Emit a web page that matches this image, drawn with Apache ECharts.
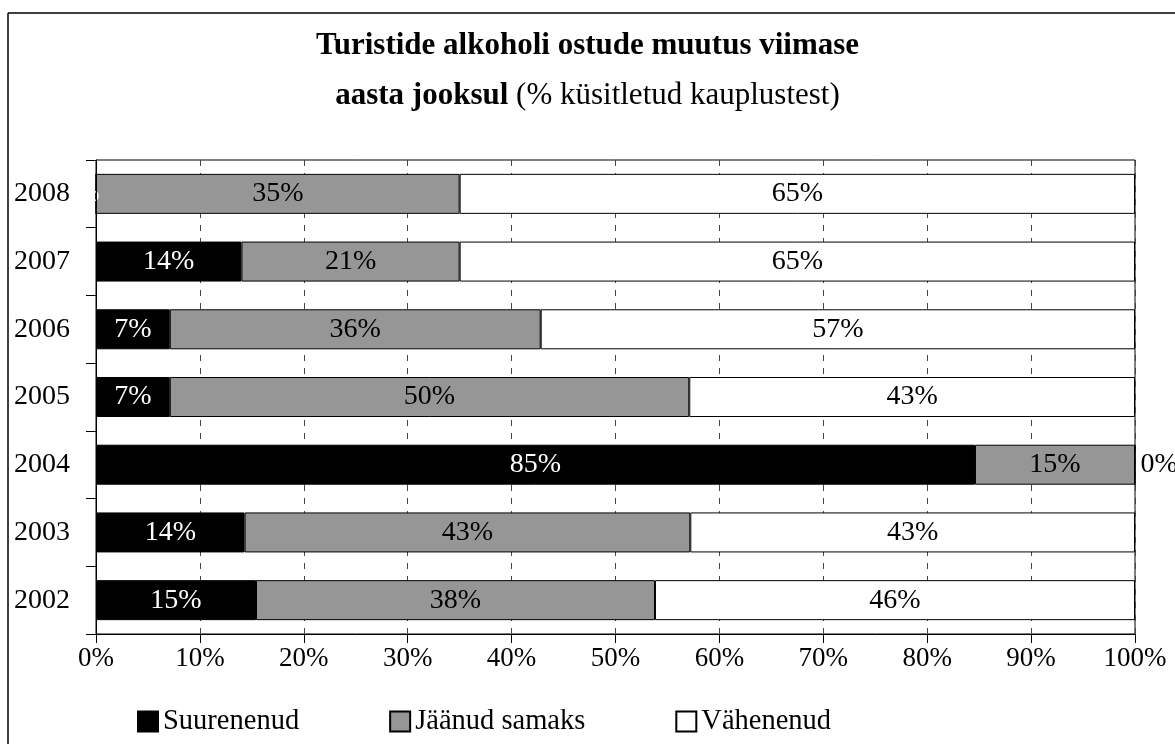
<!DOCTYPE html>
<html>
<head>
<meta charset="utf-8">
<script src="https://cdn.jsdelivr.net/npm/echarts@6/dist/echarts.min.js"></script>
<style>html,body{margin:0;padding:0;background:#fff}#c{width:1175px;height:744px}</style>
</head>
<body>
<div id="c"></div>
<script>
const years = ['2002','2003','2004','2005','2006','2007','2008'];
const suurenenud = [15.4, 14.3, 84.6, 7.1, 7.1, 14, 0];
const jaanudSamaks = [38.4, 42.9, 15.4, 50, 35.7, 21, 35];
const vahenenud = [46.2, 42.8, 0, 42.9, 57.2, 65, 65];
const xTicks = [0,10,20,30,40,50,60,70,80,90,100];

const FONT = 'Liberation Serif';
const chart = echarts.init(document.getElementById('c'));

function items(vals, zeroPos, zeroDist) {
  return vals.map(v => {
    const it = { value: v };
    if (v === 0) it.label = { position: zeroPos, distance: zeroDist };
    return it;
  });
}
const fmt = p => Math.round(p.value) + '%';

chart.setOption({
  animation: false,
  backgroundColor: '#fff',
  title: {
    left: 'center', top: 16,
    text: '{b|Turistide alkoholi ostude muutus viimase}\n{b|aasta jooksul} {n|(% küsitletud kauplustest)}',
    textStyle: {
      fontFamily: FONT, fontWeight: 'normal', fontSize: 31, color: '#000',
      rich: {
        b: { fontFamily: FONT, fontWeight: 'bold', fontSize: 31, color: '#000', lineHeight: 50 },
        n: { fontFamily: FONT, fontWeight: 'normal', fontSize: 31, color: '#000', lineHeight: 50 }
      }
    }
  },
  legend: {
    left: 132, top: 702,
    icon: 'rect', itemWidth: 20, itemHeight: 20, itemGap: 90,
    textStyle: { fontFamily: FONT, fontSize: 28.5, color: '#000' },
    data: ['Suurenenud', 'Jäänud samaks', 'Vähenenud']
  },
  grid: { left: 96, right: 40, top: 160, bottom: 110, show: true, borderColor: '#000', borderWidth: 1 },
  xAxis: {
    type: 'value', min: 0, max: 100, interval: 10,
    axisLine: { show: true, lineStyle: { color: '#000', width: 1 } },
    axisTick: { show: true, length: 9, lineStyle: { color: '#000' } },
    axisLabel: { margin: 11, fontFamily: FONT, fontSize: 27, color: '#000', formatter: '{value}%' },
    splitLine: { show: true, lineStyle: { color: '#444', type: [6, 7], width: 1 } }
  },
  yAxis: {
    type: 'category', data: years, z: 5,
    axisLine: { show: true, lineStyle: { color: '#000', width: 1 } },
    axisTick: { show: true, length: 10, lineStyle: { color: '#000' } },
    axisLabel: { margin: 26, fontFamily: FONT, fontSize: 28, color: '#000' }
  },
  series: [
    {
      name: 'Suurenenud', type: 'bar', stack: 'a', barWidth: 40,
      itemStyle: { color: '#000', borderColor: '#000', borderWidth: 1 },
      label: { show: true, position: 'inside', color: '#fff', fontFamily: FONT, fontSize: 28, formatter: fmt },
      data: items(suurenenud, 'left', -4)
    },
    {
      name: 'Jäänud samaks', type: 'bar', stack: 'a', barWidth: 40,
      itemStyle: { color: '#969696', borderColor: '#000', borderWidth: 1 },
      label: { show: true, position: 'inside', color: '#000', fontFamily: FONT, fontSize: 28, formatter: fmt },
      data: items(jaanudSamaks, 'right', 5)
    },
    {
      name: 'Vähenenud', type: 'bar', stack: 'a', barWidth: 40,
      itemStyle: { color: '#fff', borderColor: '#000', borderWidth: 1 },
      label: { show: true, position: 'inside', color: '#000', fontFamily: FONT, fontSize: 28, formatter: fmt },
      data: items(vahenenud, 'right', 5)
    }
  ],
  graphic: [
    { type: 'line', shape: { x1: 8, y1: 13, x2: 1175, y2: 13 }, style: { stroke: '#000', lineWidth: 1.5 } },
    { type: 'line', shape: { x1: 8, y1: 13, x2: 8, y2: 744 }, style: { stroke: '#000', lineWidth: 1.5 } }
  ]
});
</script>
</body>
</html>
